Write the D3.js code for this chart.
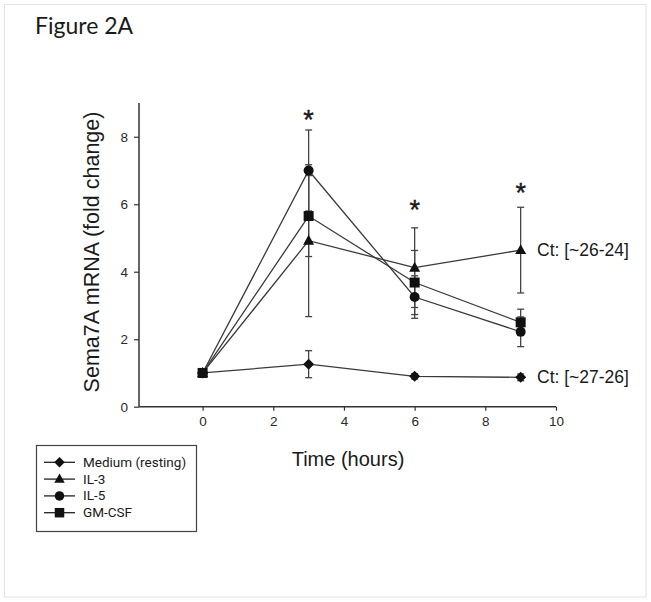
<!DOCTYPE html>
<html><head><meta charset="utf-8">
<script src="https://cdn.jsdelivr.net/npm/d3@7"></script>
<style>
body{margin:0;background:#fff;}
svg{display:block;}
</style></head>
<body>
<svg id="chart" width="651" height="602"></svg>
<script>
const times = [0, 3, 6, 9];
const seriesNames = ["Medium (resting)", "IL-3", "IL-5", "GM-CSF"];
const mediumVals = [1.0, 1.26, 0.9, 0.87];
const mediumErr  = [0.05, 0.4, 0.08, 0.1];
const il3Vals    = [1.0, 4.92, 4.12, 4.64];
const il3Err     = [0.05, 2.25, 1.18, 1.27];
const il5Vals    = [1.0, 7.0, 3.25, 2.22];
const il5Err     = [0.05, 1.2, 0.63, 0.44];
const gmVals     = [1.0, 5.65, 3.68, 2.5];
const gmErr      = [0.05, 1.2, 0.95, 0.39];
const starTimes  = [3, 6, 9];
const starVals   = [8.64, 5.98, 6.48];
const ctLabels   = ["Ct: [~26-24]", "Ct: [~27-26]"];
const ctVals     = [4.64, 0.87];
const xTicks = [0, 2, 4, 6, 8, 10];
const yTicks = [0, 2, 4, 6, 8];

const svg = d3.select("#chart");
const x = d3.scaleLinear().domain([-1.8, 10]).range([139, 556]);
const y = d3.scaleLinear().domain([0, 9]).range([406.7, 103]);
const ink = "#1a1a1a";
const lineCol = "#3a3a3a";
const font = "'Liberation Sans', Arial, sans-serif";

// frame
svg.append("rect").attr("x",4.5).attr("y",4.5).attr("width",641.5).attr("height",592.5)
  .attr("fill","none").attr("stroke","#e2e2e2").attr("stroke-width",1);

svg.append("text").attr("x",35).attr("y",34).text("Figure 2A")
  .attr("font-family","Lato, 'Open Sans', sans-serif").attr("font-size",23).attr("fill",ink);

// axes
const xAxis = d3.axisBottom(x).tickValues(xTicks).tickSize(4).tickPadding(6).tickFormat(d3.format("d"));
const gx = svg.append("g").attr("transform",`translate(0,${y(0)})`).call(xAxis);
const yAxis = d3.axisLeft(y).tickValues(yTicks).tickSize(5).tickPadding(6).tickFormat(d3.format("d"));
const gy = svg.append("g").attr("transform",`translate(${x(-1.8)},0)`).call(yAxis);
[gx, gy].forEach(g => {
  g.select(".domain").attr("stroke", "#333").attr("stroke-width",1.5)
    .attr("d", g === gx ? `M${x(-1.8)},0H${x(10)}` : `M0,${y(0)}V${y(9)}`);
  g.selectAll(".tick line").attr("stroke","#333").attr("stroke-width",1.2);
  g.selectAll(".tick text").attr("font-family",font).attr("font-size",13.5).attr("fill","#2a2a2a");
});

svg.append("text").attr("x",348).attr("y",466).attr("text-anchor","middle")
  .attr("font-family",font).attr("font-size",20).attr("fill",ink).text("Time (hours)");
svg.append("text").attr("transform","translate(99,252) rotate(-90)").attr("text-anchor","middle")
  .attr("font-family",font).attr("font-size",21.5).attr("fill",ink).text("Sema7A mRNA (fold change)");

// marker generators
function markerPath(type, s) {
  if (type === "diamond") { const r = s/2; return `M0,${-r}L${r},0L0,${r}L${-r},0Z`; }
  if (type === "triangle") { const h = s*0.9; return `M0,${-h*0.6}L${s/2},${h*0.4}L${-s/2},${h*0.4}Z`; }
  if (type === "square") { const r = s/2; return `M${-r},${-r}H${r}V${r}H${-r}Z`; }
  const r = s/2; return d3.symbol(d3.symbolCircle, Math.PI*r*r)();
}
const series = [
  {name: seriesNames[0], vals: mediumVals, err: mediumErr, m: "diamond", s: 11},
  {name: seriesNames[1], vals: il3Vals, err: il3Err, m: "triangle", s: 11},
  {name: seriesNames[2], vals: il5Vals, err: il5Err, m: "circle", s: 10},
  {name: seriesNames[3], vals: gmVals, err: gmErr, m: "square", s: 10}
];

const line = d3.line().x((d,i)=>x(times[i])).y(d=>y(d));
const plot = svg.append("g");
// error bars
series.forEach(sr => {
  sr.vals.forEach((v,i) => {
    const e = sr.err[i];
    if (i === 0) return;
    const g = plot.append("g").attr("stroke","#444").attr("stroke-width",1.3);
    g.append("line").attr("x1",x(times[i])).attr("x2",x(times[i])).attr("y1",y(v-e)).attr("y2",y(v+e));
    [v-e, v+e].forEach(c => g.append("line").attr("x1",x(times[i])-3.5).attr("x2",x(times[i])+3.5).attr("y1",y(c)).attr("y2",y(c)));
  });
});
series.forEach(sr => {
  plot.append("path").attr("d", line(sr.vals)).attr("fill","none").attr("stroke",lineCol).attr("stroke-width",1.3);
});
series.forEach(sr => {
  sr.vals.forEach((v,i) => {
    plot.append("path").attr("d", markerPath(sr.m, sr.s))
      .attr("transform",`translate(${x(times[i])},${y(v)})`).attr("fill","#111");
  });
});

// stars
starTimes.forEach((t,i) => {
  svg.append("text").attr("x",x(t)).attr("y",y(starVals[i])+14).attr("text-anchor","middle")
    .attr("font-family",font).attr("font-size",27).attr("fill",ink).attr("stroke",ink).attr("stroke-width",0.4).text("*");
});
// Ct labels
ctLabels.forEach((t,i) => {
  svg.append("text").attr("x",537).attr("y",y(ctVals[i])+6).attr("font-family",font)
    .attr("font-size",17.5).attr("fill",ink).text(t);
});

// legend
const lg = svg.append("g");
lg.append("rect").attr("x",36.5).attr("y",445.5).attr("width",160).attr("height",86)
  .attr("fill","none").attr("stroke","#444").attr("stroke-width",1.2);
series.forEach((sr,i) => {
  const yy = 462.3 + i*16.8;
  lg.append("line").attr("x1",44).attr("x2",75).attr("y1",yy).attr("y2",yy).attr("stroke","#222").attr("stroke-width",1.3);
  lg.append("path").attr("d", markerPath(sr.m, sr.s*0.95)).attr("transform",`translate(59.5,${yy})`).attr("fill","#111");
  lg.append("text").attr("x",83).attr("y",yy+4.5).attr("font-family","Roboto, 'Liberation Sans', sans-serif")
    .attr("font-size",13.5).attr("fill",ink).text(sr.name);
});
</script>
</body></html>
